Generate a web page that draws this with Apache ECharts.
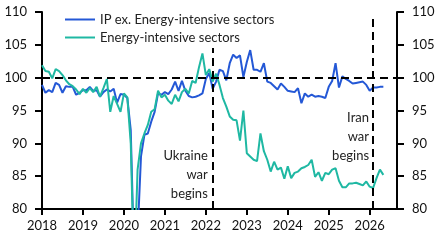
<!DOCTYPE html>
<html>
<head>
<meta charset="utf-8">
<script src="https://cdn.jsdelivr.net/npm/echarts@6/dist/echarts.min.js"></script>
<style>
  html, body { margin: 0; padding: 0; background: #fff; }
  #chart { width: 443px; height: 248px; }
</style>
</head>
<body>
<div id="chart"></div>
<script>
// monthly index, Jan 2018 onwards
const startYear = 2018;
const seriesNames = ['IP ex. Energy-intensive sectors', 'Energy-intensive sectors'];
const yearTicks = [2018, 2019, 2020, 2021, 2022, 2023, 2024, 2025, 2026];

const ipExEnergy = [
  98.9, 97.7, 98.1, 97.8, 99.2, 98.9, 97.7, 98.7, 98.6, 98.6, 97.4, 97.7,
  98.1, 98.1, 98.6, 98.0, 98.1, 97.1, 97.8, 98.2, 97.9, 98.3, 96.2, 97.5,
  97.4, 96.9, 92.0, 72.0, 76.0, 88.0, 91.3, 91.5, 93.3, 94.8, 97.6, 97.4,
  97.8, 97.5, 98.2, 99.4, 98.0, 99.5, 98.0, 97.2, 97.0, 97.1, 97.3, 97.6,
  99.8, 100.7, 98.3, 99.4, 101.2, 101.0, 99.6, 102.2, 103.5, 103.0, 103.4, 100.1,
  102.4, 104.2, 101.2, 101.2, 100.9, 102.2, 99.4, 99.2, 98.7, 98.2, 99.1, 98.6,
  98.0, 97.9, 97.8, 98.4, 96.1, 97.6, 97.1, 97.4, 97.1, 97.2, 97.1, 96.9,
  98.6, 99.5, 102.2, 98.5, 100.2, 99.8, 99.5, 99.1, 99.2, 99.3, 99.4, 98.9,
  98.0, 98.5, 98.5, 98.6, 98.6
];
const energyIntensive = [
  101.9, 101.0, 100.9, 99.9, 101.3, 101.0, 100.4, 99.6, 99.0, 98.7, 98.2, 97.5,
  98.3, 97.7, 98.4, 97.8, 98.6, 97.1, 98.4, 99.8, 94.8, 97.2, 96.0, 94.8,
  97.6, 97.0, 90.0, 70.0, 86.0, 90.0, 91.5, 92.8, 94.8, 95.2, 98.0, 97.0,
  97.4, 96.5, 96.0, 97.4, 96.4, 97.8, 98.3, 97.6, 99.5, 99.2, 101.6, 103.7,
  100.4, 101.3, 99.4, 100.6, 98.9, 96.9, 95.6, 94.1, 93.6, 93.5, 90.4, 95.0,
  88.5, 88.0, 87.5, 87.3, 91.5, 88.8, 87.5, 85.7, 87.2, 86.0, 86.3, 84.6,
  86.5, 84.7, 85.5, 85.7, 86.2, 86.4, 86.7, 87.5, 84.9, 85.6, 84.3, 85.5,
  85.3, 86.0, 86.2, 84.3, 83.3, 83.3, 83.9, 83.9, 84.0, 83.8, 83.6, 84.2,
  83.4, 83.2, 84.7, 86.0, 85.2
];

// events (month index from Jan 2018)
const ukraineMonth = 50;
const iranMonth = 97;
const lastMonth = 104;

const toYear = i => startYear + i / 12;
const pairs = arr => arr.map((v, i) => [toYear(i), v]);

const font = 'Lato';
const chart = echarts.init(document.getElementById('chart'));

const option = {
  animation: false,
  textStyle: { fontFamily: font },
  grid: { left: 42, right: 46, top: 12, bottom: 39 },
  legend: {
    orient: 'vertical',
    left: 60,
    top: 8,
    icon: 'rect',
    itemWidth: 30,
    itemHeight: 2,
    itemGap: 5,
    textStyle: { fontFamily: font, fontSize: 13, color: '#222' },
    data: seriesNames
  },
  xAxis: {
    type: 'value',
    min: toYear(0),
    max: toYear(lastMonth),
    splitLine: { show: false },
    axisLine: { lineStyle: { color: '#000', width: 2 } },
    axisTick: { length: 6, lineStyle: { color: '#000', width: 2 }, customValues: yearTicks },
    axisLabel: {
      customValues: yearTicks,
      formatter: v => String(v),
      margin: 10, fontSize: 13, color: '#111', fontFamily: font
    }
  },
  yAxis: [0, 1].map(k => ({
    type: 'value',
    position: k ? 'right' : 'left',
    min: 80,
    max: 110,
    interval: 5,
    splitLine: { show: false },
    axisLine: { show: true, lineStyle: { color: '#000', width: 2 } },
    axisTick: { show: true, length: 7, lineStyle: { color: '#000', width: 2 } },
    axisLabel: { margin: 15, fontSize: 13, color: '#111', fontFamily: font }
  })),
  series: [
    {
      name: seriesNames[0],
      type: 'line',
      symbol: 'none',
      color: '#2458D6',
      lineStyle: { width: 2 },
      data: pairs(ipExEnergy),
      markLine: {
        silent: true,
        symbol: 'none',
        z: 10,
        label: { show: false },
        lineStyle: { color: '#000', width: 2, type: [8, 5] },
        data: [
          { yAxis: 100 },
          [{ coord: [toYear(ukraineMonth), 80] }, { coord: [toYear(ukraineMonth), 104.5] }],
          [{ coord: [toYear(iranMonth), 80] }, { coord: [toYear(iranMonth), 109] }]
        ]
      }
    },
    {
      name: seriesNames[1],
      type: 'line',
      symbol: 'none',
      color: '#1FB8A3',
      lineStyle: { width: 2 },
      data: pairs(energyIntensive),
      markPoint: {
        symbolSize: 0,
        silent: true,
        label: {
          show: true,
          position: [0, 0],
          align: 'right',
          verticalAlign: 'middle',
          lineHeight: 19,
          fontSize: 13,
          color: '#222',
          fontFamily: font,
          formatter: p => p.name
        },
        data: [
          { name: 'Ukraine\nwar\nbegins', coord: [toYear(ukraineMonth) - 0.12, 85.2] },
          { name: 'Iran\nwar\nbegins', coord: [toYear(iranMonth) - 0.1, 91.0] }
        ]
      }
    }
  ]
};

option && chart.setOption(option);
</script>
</body>
</html>
